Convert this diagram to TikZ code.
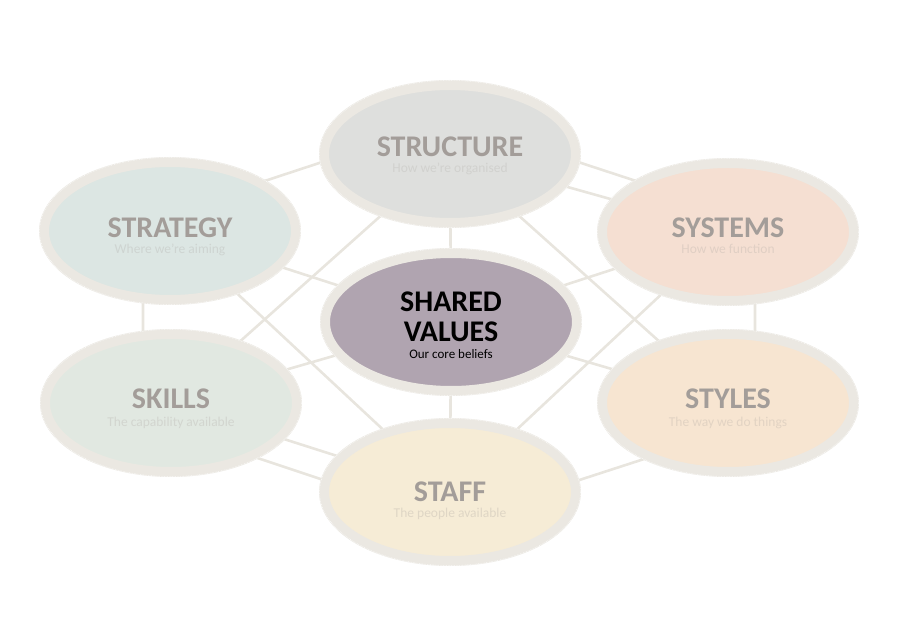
\documentclass[tikz,border=0pt]{standalone}
\usepackage{fontspec}
\setmainfont{Carlito}
\usetikzlibrary{shapes.geometric}
\pgfdeclarelayer{background}
\pgfsetlayers{background,main}
\definecolor{ring}{HTML}{EBE8E2}
\definecolor{linkc}{HTML}{E8E5DE}
\definecolor{titlec}{HTML}{A39D99}
\definecolor{fStructure}{HTML}{DEDFDD}
\definecolor{fStrategy}{HTML}{DCE6E3}
\definecolor{fSystems}{HTML}{F5DFD2}
\definecolor{fShared}{HTML}{B0A4B0}
\definecolor{fSkills}{HTML}{E1E8E1}
\definecolor{fStyles}{HTML}{F7E5D1}
\definecolor{fStaff}{HTML}{F6ECD6}
\begin{document}
\begin{tikzpicture}[x=1pt,y=-1pt,
  blob/.style={ellipse, minimum width=252pt, minimum height=138pt, inner sep=0pt, draw=ring, line width=10pt},
  rim/.style={draw=white, line width=0.5pt, dash pattern=on 0.8pt off 0.8pt, opacity=0.8},
  ttl/.style={anchor=base, font=\bfseries\fontsize{30}{30}\selectfont, text=titlec, inner sep=0pt},
  sub/.style={anchor=base, font=\fontsize{13.5}{14}\selectfont, inner sep=0pt},
  link/.style={draw=linkc, line width=2.6pt}]
\useasboundingbox (0,0) rectangle (900,636);

% ring coordinates
\coordinate (hTop) at (450,120);
\coordinate (hUR) at (755,220);
\coordinate (hLR) at (755,423);
\coordinate (hBot) at (450,522);
\coordinate (hLL) at (143,420);
\coordinate (hUL) at (143,221);

% ellipses
\node[blob, fill=fStructure] (structure) at (450,154) {};
\node[blob, fill=fStrategy] (strategy) at (170,231) {};
\node[blob, fill=fSystems] (systems) at (728,232) {};
\node[blob, fill=fShared] (shared) at (451,322) {};
\node[blob, fill=fSkills] (skills) at (171,403) {};
\node[blob, fill=fStyles] (styles) at (728,403) {};
\node[blob, fill=fStaff] (staff) at (450,492) {};

\foreach \n in {structure,strategy,systems,shared,skills,styles,staff}
  \draw[rim] (\n.center) ellipse (130.5 and 73.5);

% texts
\node[ttl] (structureT) at (450,157) {STRUCTURE};
\node[sub, text=titlec!22!fStructure] (structureS) at (450,173) {How we're organised};
\node[ttl] (strategyT) at (170,238) {STRATEGY};
\node[sub, text=titlec!25!fStrategy] (strategyS) at (170,254) {Where we're aiming};
\node[ttl] (systemsT) at (728,238) {SYSTEMS};
\node[sub, text=titlec!25!fSystems] (systemsS) at (728,254) {How we function};
\node[ttl, text=black] (sharedT1) at (451,312) {SHARED};
\node[ttl, text=black] (sharedT2) at (451,342) {VALUES};
\node[sub, font=\fontsize{13}{14}\selectfont, text=black] (sharedS) at (451,359) {Our core beliefs};
\node[ttl] (skillsT) at (171,409) {SKILLS};
\node[sub, text=titlec!25!fSkills] (skillsS) at (171,426) {The capability available};
\node[ttl] (stylesT) at (728,409) {STYLES};
\node[sub, text=titlec!25!fStyles] (stylesS) at (728,426) {The way we do things};
\node[ttl] (staffT) at (450,501) {STAFF};
\node[sub, text=titlec!28!fStaff] (staffS) at (450,517) {The people available};

\begin{pgfonlayer}{background}
  % outer ring
  \draw[link] (hTop) -- (hUR) -- (hLR) -- (hBot) -- (hLL) -- (hUL) -- cycle;
  % spokes
  \foreach \n in {structure,strategy,systems,skills,styles,staff}
    \draw[link] (shared.center) -- (\n.center);
  % diagonals
  \draw[link] (strategy.center) -- (staff.center);
  \draw[link] (skills.center) -- (structure.center);
  \draw[link] (structure.center) -- (styles.center);
  \draw[link] (systems.center) -- (staff.center);
  \draw[link] (structure.center) -- (systems.center);
  \draw[link] (skills.center) -- (staff.center);
\end{pgfonlayer}
\end{tikzpicture}
\end{document}
